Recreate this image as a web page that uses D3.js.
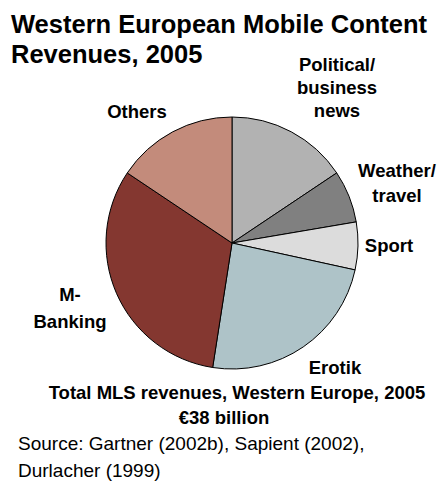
<!DOCTYPE html>
<html>
<head>
<meta charset="utf-8">
<script src="https://cdn.jsdelivr.net/npm/d3@7"></script>
<style>
  html, body { margin: 0; padding: 0; background: #fff; }
  svg { display: block; font-family: "Liberation Sans", Arial, sans-serif; }
</style>
</head>
<body>
<svg id="chart" width="442" height="481"></svg>
<script>
// Revenue shares (%) by content category, clockwise from 12 o'clock
const categories = ["Political/ business news", "Weather/ travel", "Sport", "Erotik", "M-Banking", "Others"];
const shares = [15.6, 6.7, 6.1, 24.0, 31.9, 15.6];
const labelLines = [["Political/", "business", "news"], ["Weather/", "travel"], ["Sport"], ["Erotik"], ["M-", "Banking"], ["Others"]];
const colors = ["#b2b2b2", "#808080", "#dcdcdc", "#aec3c8", "#843730", "#c38b7b"];

const titleLines = ["Western European Mobile Content", "Revenues, 2005"];
const totalLines = ["Total MLS revenues, Western Europe, 2005", "€38 billion"];
const sourceLines = ["Source: Gartner (2002b), Sapient (2002),", "Durlacher (1999)"];

// Layout
const cx = 232, cy = 243, radius = 126;
const labelPos = [
  { x: 337, y: 71, dy: 23 },
  { x: 397, y: 177, dy: 25 },
  { x: 389, y: 252, dy: 0 },
  { x: 335, y: 374, dy: 0 },
  { x: 70, y: 301, dy: 27 },
  { x: 137, y: 118, dy: 0 }
];

const svg = d3.select("#chart");

// Title
svg.append("text")
  .attr("font-size", 25.5).attr("font-weight", "bold").attr("fill", "#000")
  .selectAll("tspan").data(titleLines).join("tspan")
  .attr("x", 11).attr("y", (d, i) => 33 + i * 29.5)
  .text(d => d);

// Pie
const data = categories.map((c, i) => ({ name: c, value: shares[i], color: colors[i], lines: labelLines[i], pos: labelPos[i] }));
const pie = d3.pie().sort(null).value(d => d.value).startAngle(0).endAngle(2 * Math.PI);
const arc = d3.arc().innerRadius(0).outerRadius(radius);

const g = svg.append("g").attr("transform", `translate(${cx},${cy})`);
g.selectAll("path").data(pie(data)).join("path")
  .attr("d", arc)
  .attr("fill", d => d.data.color)
  .attr("stroke", "#000")
  .attr("stroke-width", 1)
  .attr("stroke-linejoin", "round");

// Category labels
svg.append("g").selectAll("text").data(data).join("text")
  .attr("font-size", 18.5).attr("font-weight", "bold").attr("text-anchor", "middle").attr("fill", "#000")
  .each(function (d) {
    d3.select(this).selectAll("tspan").data(d.lines).join("tspan")
      .attr("x", d.pos.x).attr("y", (l, i) => d.pos.y + i * d.pos.dy)
      .text(l => l);
  });

// Total
svg.append("text")
  .attr("font-size", 18.5).attr("font-weight", "bold").attr("text-anchor", "middle").attr("fill", "#000")
  .selectAll("tspan").data(totalLines).join("tspan")
  .attr("x", (d, i) => i === 0 ? 237 : 224).attr("y", (d, i) => 399 + i * 24.5)
  .text(d => d);

// Source
svg.append("text")
  .attr("font-size", 19).attr("fill", "#000")
  .selectAll("tspan").data(sourceLines).join("tspan")
  .attr("x", 18).attr("y", (d, i) => 450 + i * 27)
  .text(d => d);
</script>
</body>
</html>
